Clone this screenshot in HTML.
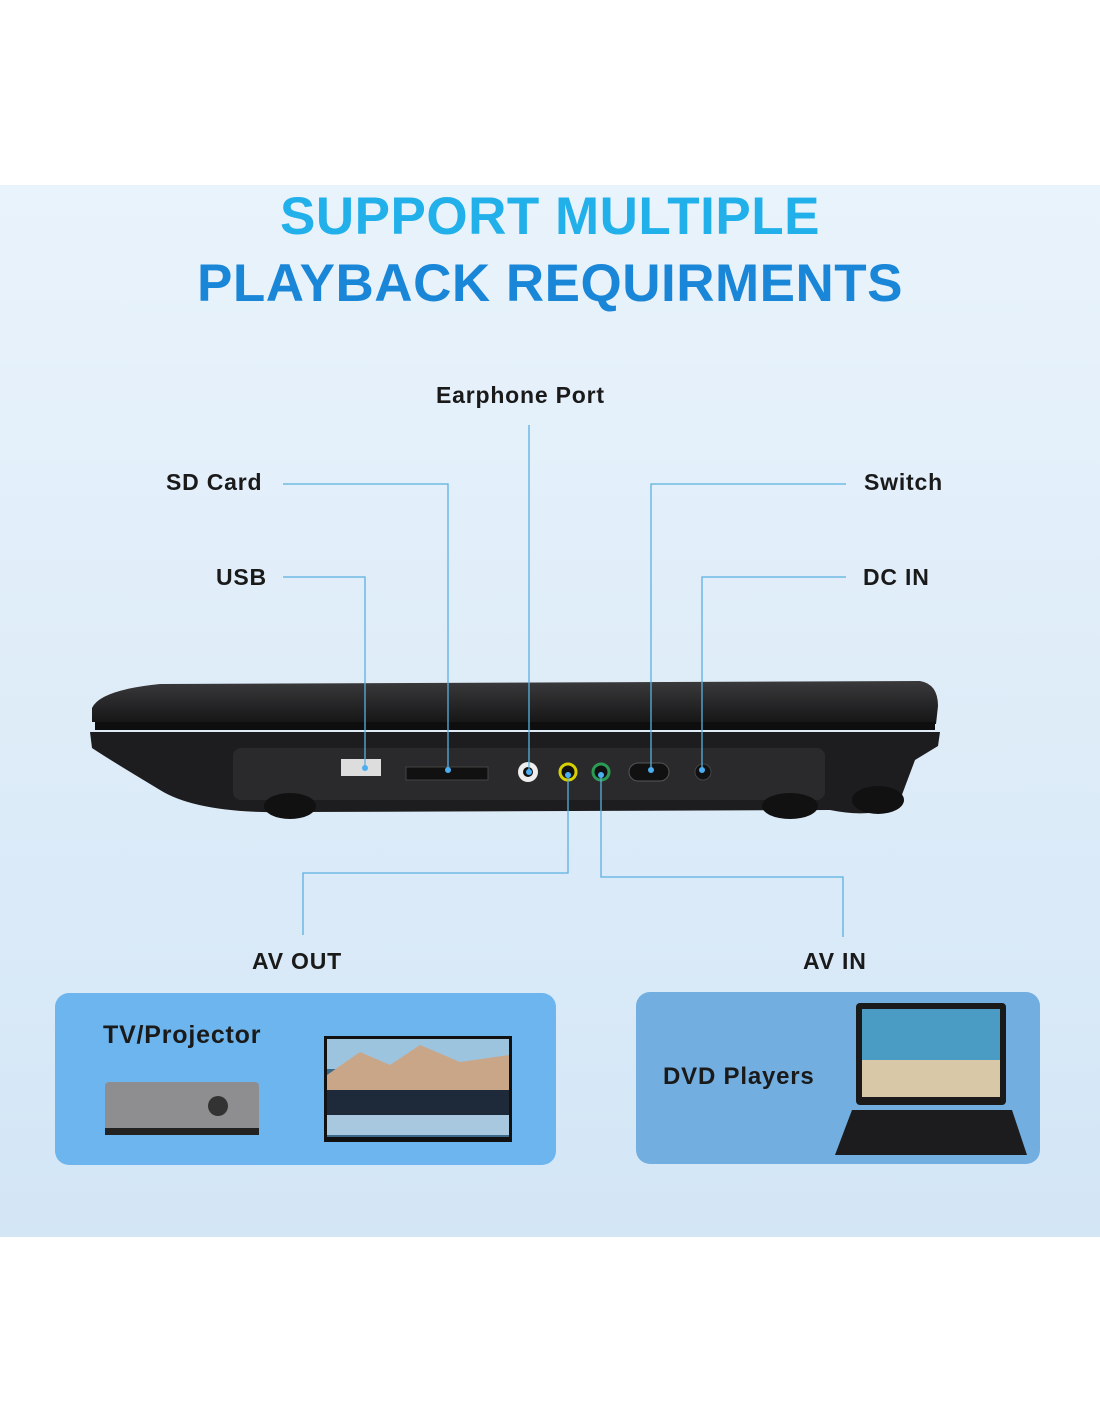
<!DOCTYPE html>
<html><head><meta charset="utf-8"><style>
body{margin:0;width:1100px;height:1422px;background:#fff;position:relative;overflow:hidden;font-family:"Liberation Sans",sans-serif}
.panel{position:absolute;left:0;top:185px;width:1100px;height:1052px;background:linear-gradient(180deg,#e9f3fb 0%,#dcebf8 60%,#d3e6f6 100%)}
.t{position:absolute;left:0;width:1100px;text-align:center;font-weight:bold;font-size:53px;letter-spacing:0.5px;line-height:1}
.l{position:absolute;font-size:23px;font-weight:bold;color:#1a1a1a;letter-spacing:0.8px;line-height:1;white-space:nowrap}
</style></head><body>
<div class="panel"></div>
<div class="t" style="top:190px;color:#22b0ea">SUPPORT MULTIPLE</div>
<div class="t" style="top:257px;color:#1a86d8">PLAYBACK REQUIRMENTS</div>
<div class="l" style="left:436px;top:384px">Earphone Port</div>
<div class="l" style="left:166px;top:471px">SD Card</div>
<div class="l" style="left:216px;top:566px">USB</div>
<div class="l" style="left:864px;top:471px">Switch</div>
<div class="l" style="left:863px;top:566px">DC IN</div>
<div class="l" style="left:252px;top:950px">AV OUT</div>
<div class="l" style="left:803px;top:950px">AV IN</div>
<svg width="1100" height="1422" style="position:absolute;left:0;top:0">
<defs><linearGradient id="g1" x1="0" y1="0" x2="0" y2="1"><stop offset="0" stop-color="#3a3a3c"/><stop offset="1" stop-color="#151516"/></linearGradient></defs>
<path d="M92 708 Q100 690 160 684 L920 681 Q938 684 938 706 L936 724 L92 722 Z" fill="url(#g1)"/>
<rect x="95" y="722" width="840" height="8" fill="#0e0e0f"/>
<path d="M90 732 L940 732 L938 746 L915 760 L900 800 Q880 820 830 810 L300 812 Q200 815 160 790 Q110 760 92 748 Z" fill="#1d1d1f"/>
<rect x="233" y="748" width="592" height="52" rx="8" fill="#2a2a2c"/>
<ellipse cx="290" cy="806" rx="26" ry="13" fill="#111"/>
<ellipse cx="790" cy="806" rx="28" ry="13" fill="#111"/>
<ellipse cx="878" cy="800" rx="26" ry="14" fill="#111"/>
<rect x="341" y="759" width="40" height="17" fill="#ddd"/>
<rect x="406" y="767" width="82" height="13" fill="#111" stroke="#444"/>
<circle cx="528" cy="772" r="10" fill="#eee"/><circle cx="528" cy="772" r="5" fill="#111"/>
<circle cx="568" cy="772" r="8" fill="#111" stroke="#d8d000" stroke-width="3"/>
<circle cx="601" cy="772" r="8" fill="#111" stroke="#2a9a55" stroke-width="3"/>
<rect x="629" y="763" width="40" height="18" rx="9" fill="#111" stroke="#555"/>
<circle cx="703" cy="772" r="8" fill="#111" stroke="#444"/>
<g stroke="#5ab0e0" stroke-width="1.3" fill="none">
<path d="M283 484 H448 V770"/><path d="M283 577 H365 V768"/><path d="M529 425 V772"/>
<path d="M846 484 H651 V770"/><path d="M846 577 H702 V770"/>
<path d="M568 772 V873 H303 V935"/><path d="M601 772 V877 H843 V937"/>
</g>
<g fill="#4aaef0"><circle cx="448" cy="770" r="3"/><circle cx="365" cy="768" r="3"/><circle cx="529" cy="772" r="3"/><circle cx="651" cy="770" r="3"/><circle cx="702" cy="770" r="3"/><circle cx="568" cy="775" r="3"/><circle cx="601" cy="775" r="3"/></g>
<rect x="55" y="993" width="501" height="172" rx="14" fill="#6db5ee"/>
<rect x="636" y="992" width="404" height="172" rx="14" fill="#72aee0"/>
<rect x="105" y="1082" width="154" height="52" rx="4" fill="#8e8e90"/>
<rect x="105" y="1128" width="154" height="7" fill="#222"/>
<circle cx="218" cy="1106" r="10" fill="#333"/>
<rect x="324" y="1036" width="188" height="106" fill="#111"/>
<rect x="327" y="1039" width="182" height="98" fill="#3c6a8a"/>
<rect x="327" y="1039" width="182" height="30" fill="#9cc4de"/>
<path d="M327 1075 L360 1052 L390 1065 L420 1045 L460 1062 L509 1055 V1090 H327Z" fill="#caa688"/>
<rect x="327" y="1090" width="182" height="25" fill="#1e2a3a"/>
<rect x="327" y="1115" width="182" height="20" fill="#a8c8e0"/>
<rect x="856" y="1003" width="150" height="102" rx="4" fill="#1a1a1a"/>
<rect x="862" y="1009" width="138" height="88" fill="#4a9cc4"/>
<rect x="862" y="1060" width="138" height="37" fill="#d8c8a8"/>
<path d="M852 1110 L1012 1110 L1027 1155 L835 1155 Z" fill="#1c1c1e"/>
</svg>
<div class="l" style="left:103px;top:1023px;font-size:25px">TV/Projector</div>
<div class="l" style="left:663px;top:1065px;font-size:24px">DVD Players</div>
</body></html>
